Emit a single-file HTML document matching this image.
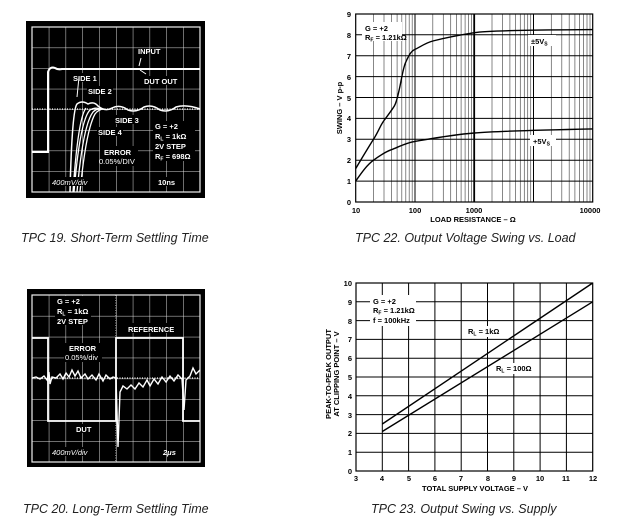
<!DOCTYPE html><html><head><style>
body{margin:0;background:#fff}
svg{display:block}
text{font-family:"Liberation Sans",sans-serif}
.b{font-weight:bold;font-size:7.5px}
.w{fill:#fff}
.cap{font-style:italic;font-size:12.5px;fill:#222}
</style></head><body>
<svg width="620" height="525" viewBox="0 0 620 525" xmlns="http://www.w3.org/2000/svg">
<defs>
<pattern id="sg" x="32" y="27" width="16.8" height="20.6" patternUnits="userSpaceOnUse"><path d="M0 0V20.6M0 0H16.8" stroke="#ddd" stroke-width="1" fill="none"/></pattern>
<pattern id="sg2" x="32" y="295" width="16.8" height="20.9" patternUnits="userSpaceOnUse"><path d="M0 0V20.9M0 0H16.8" stroke="#ddd" stroke-width="1" fill="none"/></pattern>
<g id="dec" stroke="#555" stroke-width="0.7"><path d="M17.8 14V202M28.3 14V202M35.7 14V202M41.4 14V202M46.1 14V202M50.1 14V202M53.5 14V202M56.5 14V202"/></g>
</defs>
<!-- TPC19 -->
<rect x="26" y="21" width="179" height="177" fill="#000"/>
<rect x="32" y="27" width="168" height="165" fill="url(#sg)" stroke="#eee" stroke-width="1.2"/>
<path d="M32 109H200" stroke="#eee" stroke-width="1.3" stroke-dasharray="1 1.5"/>
<path d="M32 152H48V72Q50 66 55 68Q58 70 62 69H200" stroke="#fff" stroke-width="2" fill="none"/>
<path d="M70 192Q72 110 77 104Q82 100 88 104Q94 101 98 106Q105 112 112 108Q120 104 128 110Q136 113 144 107Q152 104 160 110Q168 113 176 107Q186 104 200 109" stroke="#fff" stroke-width="1.5" fill="none"/>
<path d="M74 192Q80 120 90 110Q95 107 100 109M77 192Q83 125 93 112Q97 108 102 109M80 192Q86 130 95 114Q99 109 104 109M73 192Q78 118 86 108" stroke="#fff" stroke-width="1.3" fill="none"/>
<g class="b w">
<text x="138" y="54">INPUT</text>
<rect x="143" y="76" width="36" height="9" fill="#000"/><text x="144" y="84">DUT OUT</text>
<rect x="72" y="73" width="26" height="9" fill="#000"/><text x="73" y="81">SIDE 1</text>
<rect x="87" y="86" width="26" height="9" fill="#000"/><text x="88" y="94">SIDE 2</text>
<rect x="114" y="115" width="26" height="9" fill="#000"/><text x="115" y="123">SIDE 3</text>
<rect x="97" y="127" width="26" height="9" fill="#000"/><text x="98" y="135">SIDE 4</text>
<rect x="153" y="121" width="42" height="40" fill="#000"/>
<text x="155" y="129">G = +2</text><text x="155" y="139">R<tspan font-size="5" dy="1.5">L</tspan><tspan dy="-1.5"> = 1kΩ</tspan></text>
<text x="155" y="149">2V STEP</text><text x="155" y="159">R<tspan font-size="5" dy="1.5">F</tspan><tspan dy="-1.5"> = 698Ω</tspan></text>
<rect x="100" y="146" width="38" height="20" fill="#000"/>
<text x="104" y="155">ERROR</text><text x="99" y="164" font-weight="normal">0.05%/DIV</text>
<rect x="51" y="177" width="42" height="9" fill="#000"/><text x="52" y="185" font-style="italic" font-weight="normal">400mV/div</text>
<rect x="157" y="177" width="16" height="9" fill="#000"/><text x="158" y="185">10ns</text>
</g>
<path d="M141 58L139 66M146 74L140 70M79 77L77 97" stroke="#fff" stroke-width="1"/>
<text x="21" y="242" class="cap">TPC 19.  Short-Term Settling Time</text>
<!-- TPC20 -->
<rect x="27" y="289" width="178" height="178" fill="#000"/>
<rect x="32" y="295" width="168" height="167" fill="url(#sg2)" stroke="#eee" stroke-width="1.2"/>
<path d="M32 378H200" stroke="#eee" stroke-width="1.3" stroke-dasharray="1 1.5"/>
<path d="M116 295V462" stroke="#eee" stroke-width="1" stroke-dasharray="1 1.5"/>
<path d="M32 338H48V421H116V338H183V421H200" stroke="#fff" stroke-width="1.8" fill="none"/>
<path d="M32 378L36 377L40 379L44 376L47 380L49 372L50 384L52 377L56 378L60 374L63 379L66 373L69 377L72 370L75 376L78 371L81 378L85 374L88 379L92 375L96 380L99 374L103 381L106 375L110 379L113 377L116 378L118 447L120 392L123 386L127 389L131 385L135 389L139 383L143 387L147 380L150 386L154 379L158 384L162 377L166 382L170 376L174 381L178 375L182 379L184 410L186 380L190 376L193 368L196 374L200 370" stroke="#fff" stroke-width="1.4" fill="none"/>
<g class="b w">
<rect x="55" y="296" width="36" height="29" fill="#000"/>
<text x="57" y="304">G = +2</text><text x="57" y="314">R<tspan font-size="5" dy="1.5">L</tspan><tspan dy="-1.5"> = 1kΩ</tspan></text>
<text x="57" y="324">2V STEP</text>
<rect x="126" y="323" width="52" height="10" fill="#000"/><text x="128" y="332">REFERENCE</text>
<rect x="64" y="343" width="38" height="19" fill="#000"/>
<text x="69" y="351">ERROR</text><text x="65" y="360" font-weight="normal">0.05%/div</text>
<rect x="74" y="424" width="18" height="9" fill="#000"/><text x="76" y="432">DUT</text>
<rect x="51" y="447" width="42" height="9" fill="#000"/><text x="52" y="455" font-style="italic" font-weight="normal">400mV/div</text>
<text x="163" y="455" font-style="italic">2μs</text>
</g>
<text x="23" y="513" class="cap">TPC 20.  Long-Term Settling Time</text>
<!-- TPC22 -->
<g>
<use href="#dec" x="355.7"/><use href="#dec" x="415"/><use href="#dec" x="474.2"/><use href="#dec" x="533.5"/>
<path d="M355.7 181.1H592.7M355.7 160.2H592.7M355.7 139.3H592.7M355.7 118.4H592.7M355.7 97.5H592.7M355.7 76.6H592.7M355.7 55.7H592.7M355.7 34.8H592.7" stroke="#000" stroke-width="1"/>
<path d="M415 14V202M533.5 14V202" stroke="#000" stroke-width="1"/>
<path d="M474.2 14V202" stroke="#000" stroke-width="1.8"/>
<rect x="355.7" y="14" width="237" height="188" fill="none" stroke="#000" stroke-width="1.2"/>
<rect x="362" y="22" width="40" height="19" fill="#fff"/>
<rect x="528" y="35" width="28" height="11" fill="#fff"/>
<rect x="530" y="135" width="26" height="11" fill="#fff"/>
<path d="M355.7 168.6C362 158 368 148 373.5 139.3S380 126 384 120.5S392 110 394.4 105.9S398 95 399.6 88S403 68 405.8 62S411 51 415 49.4S425 43 432.8 41S460 35 474.2 32.7S540 30 592.7 29.6" stroke="#000" stroke-width="1.4" fill="none"/>
<path d="M355.7 181.1C362 172 367 165 373.5 160.2S385 152 391.4 149.7S405 143 415 141.4S450 135 474.2 133S540 130 592.7 128.9" stroke="#000" stroke-width="1.4" fill="none"/>
<g class="b" font-size="7">
<text x="365" y="31">G = +2</text><text x="365" y="40">R<tspan font-size="5" dy="1.5">F</tspan><tspan dy="-1.5"> = 1.21kΩ</tspan></text>
<text x="531" y="44">±5V<tspan font-size="5" dy="1.5">S</tspan></text>
<text x="533" y="144">+5V<tspan font-size="5" dy="1.5">S</tspan></text>
</g>
<g class="b" text-anchor="end" font-size="7.5">
<text x="351" y="17">9</text><text x="351" y="38">8</text><text x="351" y="59">7</text><text x="351" y="80">6</text><text x="351" y="101">5</text><text x="351" y="121">4</text><text x="351" y="142">3</text><text x="351" y="163">2</text><text x="351" y="184">1</text><text x="351" y="205">0</text>
</g>
<g class="b" text-anchor="middle" font-size="7.5">
<text x="356" y="213">10</text><text x="415" y="213">100</text><text x="474" y="213">1000</text><text x="590" y="213">10000</text>
<text x="473" y="222">LOAD RESISTANCE – Ω</text>
<text transform="translate(342 108) rotate(-90)">SWING – V p-p</text>
</g>
</g>
<text x="355" y="242" class="cap">TPC 22.  Output Voltage Swing vs. Load</text>
<!-- TPC23 -->
<g>
<path d="M356 452.2H592.7M356 433.4H592.7M356 414.6H592.7M356 395.8H592.7M356 377H592.7M356 358.2H592.7M356 339.4H592.7M356 320.6H592.7M356 301.8H592.7M382.3 283V471M408.6 283V471M434.9 283V471M461.2 283V471M487.5 283V471M513.8 283V471M540.1 283V471M566.4 283V471" stroke="#000" stroke-width="1"/>
<rect x="356" y="283" width="236.7" height="188" fill="none" stroke="#000" stroke-width="1.2"/>
<rect x="370" y="295" width="46" height="31" fill="#fff"/>
<rect x="466" y="326" width="30" height="11" fill="#fff"/>
<rect x="494" y="363" width="30" height="11" fill="#fff"/>
<path d="M382.3 424L592.7 283M382.3 431.5L592.7 301.8" stroke="#000" stroke-width="1.4"/>
<g class="b" font-size="7">
<text x="373" y="304">G = +2</text><text x="373" y="313">R<tspan font-size="5" dy="1.5">F</tspan><tspan dy="-1.5"> = 1.21kΩ</tspan></text><text x="373" y="323">f = 100kHz</text>
<text x="468" y="334">R<tspan font-size="5" dy="1.5">L</tspan><tspan dy="-1.5"> = 1kΩ</tspan></text>
<text x="496" y="371">R<tspan font-size="5" dy="1.5">L</tspan><tspan dy="-1.5"> = 100Ω</tspan></text>
</g>
<g class="b" text-anchor="end" font-size="7.5">
<text x="352" y="286">10</text><text x="352" y="305">9</text><text x="352" y="324">8</text><text x="352" y="342">7</text><text x="352" y="361">6</text><text x="352" y="380">5</text><text x="352" y="399">4</text><text x="352" y="418">3</text><text x="352" y="436">2</text><text x="352" y="455">1</text><text x="352" y="474">0</text>
</g>
<g class="b" text-anchor="middle" font-size="7.5">
<text x="356" y="481">3</text><text x="382" y="481">4</text><text x="409" y="481">5</text><text x="435" y="481">6</text><text x="461" y="481">7</text><text x="488" y="481">8</text><text x="514" y="481">9</text><text x="540" y="481">10</text><text x="566" y="481">11</text><text x="593" y="481">12</text>
<text x="475" y="491">TOTAL SUPPLY VOLTAGE – V</text>
<text transform="translate(331 374) rotate(-90)">PEAK-TO-PEAK OUTPUT</text>
<text transform="translate(339 374) rotate(-90)">AT CLIPPING POINT – V</text>
</g>
</g>
<text x="371" y="513" class="cap">TPC 23.  Output Swing vs. Supply</text>
</svg>
</body></html>
